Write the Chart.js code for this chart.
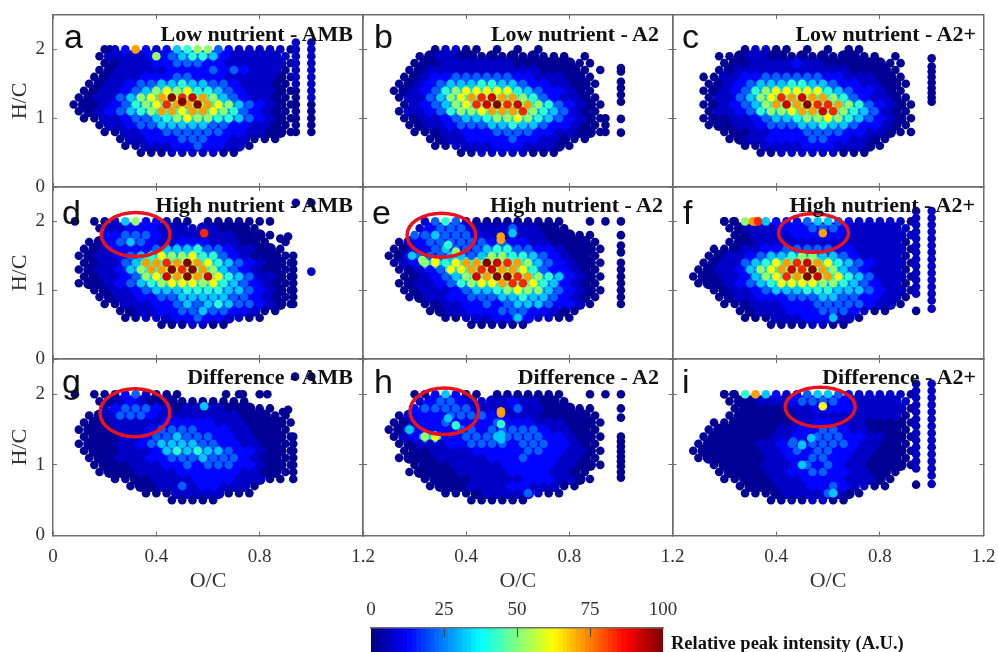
<!DOCTYPE html>
<html>
<head>
<meta charset="utf-8">
<script src="https://cdn.jsdelivr.net/npm/chart.js@4"></script>
<style>
	html, body { margin: 0; background: #fff; overflow: hidden; }
	body { position: relative; width: 998px; height: 652px; }
	canvas { position: absolute; left: 0; top: 0; filter: blur(0.4px); }
	.title, .letter, .bar_label { position: absolute; white-space: nowrap; color: #111; line-height: 1; }
	.title { font: bold 22px "Liberation Serif"; }
	.letter { font: 34px "Liberation Sans"; }
	.bar_label { font: bold 18.5px "Liberation Serif"; left: 671px; top: 633px; }
</style>
</head>
<body>
<script>
// H/C of each row of dots, O/C of the dots in the rows that start at A and at B
const hc_rows = [2.0, 1.9, 1.8, 1.7, 1.6, 1.5, 1.4, 1.3, 1.2, 1.1, 1.0, 0.9, 0.8, 0.7, 0.6, 0.5];
const oc_a = [0.08, 0.12, 0.16, 0.20, 0.24, 0.28, 0.32, 0.36, 0.40, 0.44, 0.48, 0.52, 0.56, 0.60, 0.64, 0.68, 0.72, 0.76, 0.80, 0.84, 0.88, 0.92];
const oc_b = [0.06, 0.10, 0.14, 0.18, 0.22, 0.26, 0.30, 0.34, 0.38, 0.42, 0.46, 0.50, 0.54, 0.58, 0.62, 0.66, 0.70, 0.74, 0.78, 0.82, 0.86, 0.90];
// each character of a row is an index into this list (base 12), "." is no dot
const level_values = [2, 7, 13, 22, 32, 42, 52, 62, 72, 84, 92, 100];

const x_ticks = [0, 0.4, 0.8, 1.2];
const y_ticks = [0, 1, 2];
const bar_ticks = [0, 25, 50, 75, 100];

const letters = ["a", "b", "c", "d", "e", "f", "g", "h", "i"];
const titles = ["Low nutrient - AMB", "Low nutrient - A2", "Low nutrient - A2+", "High nutrient - AMB", "High nutrient - A2", "High nutrient - A2+", "Difference - AMB", "Difference - A2", "Difference - A2+"];

const rows_a = [
	"...0128212456632111110", "...0111122345542111111", "...0011122333221111110", "...0011111222232321110",
	"..00111222332221111100", "..00112334454433211100", ".001123467675543211100", ".001134678b9a864321100",
	"000123567988b876432100", ".001234568878876532100", ".001123345676655432100", "...0112334444433221100",
	"...0011223333332211000", ".....0112223332211000.", ".....0011122322110....", ".......0001111100....."];
const rows_b = [
	".....01100.0.0.0......", "....001100000000000.0.", "...000111111100000000.", "...001111111111100000.",
	"..0012233333322111000.", "..00123444554432211000", ".00123567777754322100.", "..011346789a8865321100",
	"..01234679ab9a86532100", "..01123566788896543100", "..00112344566765432100", "...0011233344544322100",
	"...0001122233332211000", ".....0011222232211000.", ".....00111122211100...", "........0011111000...."];
const rows_c = [
	".....01100.0.0.00.....", "...0001100000000000.0.", "...000111121100000000.", "...001111111111100000.",
	".00112233333322111000.", "..00123444554432211000", ".00123567777754322100.", "..011346798a8865321100",
	".00123468a8b9986532100", "..01123566788a96543100", ".000112344566765432100", "..00011233344544322100",
	"...0001122233332211000", "....0011222233221100..", ".....00111122211100...", ".......00111111000...."];
const rows_d = [
	"..0014622100.0000000..", "...0112221111110000...", "...22333211111110000..", "..002343211222111000.0",
	".00122223444533211000.", ".001123457667553210000", ".0011348898b8754321000", ".001124688b9b864321000",
	".00112367a8b8a75431100", ".000123456777675432100", "..00112344455554432100", "...0011223344444332100",
	"...0011122343454332100", ".....0011223343322100.", ".....00111223221100...", ".........0001100......"];
const rows_e = [
	"....13531000000000..0.", "....123331111311000...", "...334333211111100000.", "..01233333323221100000",
	".002234333455332210000", ".002333443466554321000", ".012675788ba9864321000", "..001237789a8875322100",
	"..0012346a8bb986542100", "..00112356778997542100", "..00111234456766432100", "...0011223334454432100",
	"....00112232344432210.", ".....001122233322100..", "......0011122421100...", ".........000000......."];
const rows_f = [
	"...0068422234432111110", "....001112223332111111", "....001111222221111111", "....000111111111111110",
	"..00011223333322111110", "..00112344566443211110", ".0011345789a8754321110", ".001124678a9b864321110",
	"00011246798ba875431110", ".000123457777665432110", "..00112344455544432110", "...0011222333443322110",
	"...000111222333332110.", ".....001112223332100..", ".....000111222110.....", "........00001100......"];
const rows_g = [
	"..000231000...........", "...001210000000000....", "...12333210111100000..", "..00133321111111100000",
	".000111112222211100000", ".000011123333222110000", ".000011233433322110000", ".000011234444332211000",
	".000011124545443221000", "..00011122333433321000", "..00001112232333221000", "...0000111122222211000",
	"....00001111222211100.", "......0001131221110...", ".......00011111000....", "..........00000......."];
const rows_h = [
	"...0024200.0000000..0.", "....123321111211000...", "...233333111131100000.", "..01222333322111000000",
	".001223222232221110000", ".004222233233333211000", ".012672233343333221000", "..00111223333233322100",
	"..00011112222233221100", "..00001111122232221100", "...0000111112222211000", "...000001111122221100.",
	"....00000111112221100.", ".....000011112211100..", "......000011113100....", ".........000000......."];
const rows_i = [
	"...0058421234432111110", "....000111233332111111", "....000000112222111110", "....000000011111111110",
	"..00000000112211100000", "..00000001122332110000", ".000000011223332211000", ".000000112333333211000",
	"0000000112323322110000", ".000000011223322110000", "..00000111232321100000", "...000001122332211000.",
	"...00000111222211100..", ".....000011122321100..", ".....000011113100.....", "........00001100......"];

// loose dots and the side columns: [O/C, level, H/C, H/C, ...]
const extra_a = [[0.94, 1, 2.1, 2.0, 1.9, 1.8, 1.7, 1.6, 1.5], [0.94, 0, 1.4, 1.3, 1.2, 1.1, 1.0, 0.9, 0.8], [1.0, 1, 2.1, 2.0, 1.9, 1.8, 1.7, 1.6, 1.5, 1.4, 1.3], [1.0, 0, 1.2, 1.1, 1.0, 0.9, 0.8], [0.40, 6, 1.9], [0.50, 11, 1.24], [0.22, 0, 2.0]];
const extra_b = [[1.0, 0, 1.73, 1.68, 1.53, 1.44, 1.34, 1.24, 0.99, 0.79], [0.94, 0, 1.0, 0.9, 0.8], [0.92, 0, 1.7]];
const extra_c = [[1.0, 0, 1.87, 1.75, 1.68, 1.6, 1.52, 1.44, 1.37, 1.3, 1.24]];
const extra_d = [[0.085, 0, 2.0], [0.94, 0, 2.27], [1.0, 1, 2.27], [1.0, 1, 1.27], [0.585, 9, 1.83], [0.91, 0, 1.78], [0.88, 0, 1.75], [0.93, 0, 1.5, 1.4, 1.3, 1.2, 1.1, 1.0, 0.9, 0.8]];
const extra_e = [[0.534, 8, 1.73, 1.78], [1.0, 0, 2.0, 1.8, 1.65, 1.55, 1.4, 1.3, 1.2, 1.1, 1.0, 0.9, 0.8], [0.94, 0, 2.0], [0.36, 6, 1.56], [0.33, 5, 1.66], [0.28, 7, 1.43], [0.23, 6, 1.44], [0.19, 4, 1.5], [0.58, 4, 1.83]];
const extra_f = [[0.20, 0, 2.0], [0.235, 0, 2.0], [0.58, 8, 1.83], [0.62, 4, 0.6], [0.33, 9, 2.0], [0.31, 8, 2.0], [0.94, 1, 2.15, 2.05, 1.95, 1.85, 1.75, 1.65, 1.55, 1.45, 1.35, 1.25, 1.15, 1.05, 0.95], [0.94, 0, 0.7], [1.0, 1, 2.15, 2.05, 1.95, 1.85, 1.75, 1.65, 1.55, 1.45, 1.35, 1.25, 1.15, 1.05, 0.95, 0.85, 0.73]];
const extra_g = [[0.085, 0, 2.0], [0.67, 0, 2.0], [0.72, 0, 2.0], [0.735, 0, 2.0], [0.80, 0, 2.0], [0.83, 0, 2.0], [0.585, 4, 1.83], [0.937, 0, 2.25], [1.0, 0, 2.25], [0.89, 0, 1.75], [0.91, 0, 1.78], [0.93, 0, 1.4, 1.3, 1.2, 1.1, 1.0, 0.9, 0.8]];
const extra_h = [[0.535, 8, 1.73, 1.76], [0.535, 5, 1.58], [0.535, 4, 1.43, 1.36], [0.33, 4, 1.66], [0.36, 5, 1.56], [1.0, 0, 2.0, 1.8, 1.67, 1.4, 1.33, 1.26, 1.19, 1.12, 1.05, 0.98, 0.9, 0.82], [0.94, 0, 2.0]];
const extra_i = [[0.20, 0, 2.0], [0.235, 0, 2.0], [0.58, 7, 1.83], [0.62, 4, 0.6], [0.50, 4, 1.0, 1.28], [0.535, 4, 1.38], [0.466, 3, 1.33], [0.94, 1, 2.15, 2.05, 1.95, 1.85, 1.75, 1.65, 1.55, 1.45, 1.35, 1.25, 1.15, 1.05, 0.95], [0.94, 0, 0.72], [1.0, 1, 2.15, 2.05, 1.95, 1.85, 1.75, 1.65, 1.55, 1.45, 1.35, 1.25, 1.15, 1.05, 0.95, 0.85, 0.73]];

// red rings: [O/C, H/C, half width, half height]
const ring_d = [0.32, 1.81, 0.133, 0.32];
const ring_e = [0.304, 1.8, 0.133, 0.32];
const ring_f = [0.544, 1.83, 0.135, 0.28];
const ring_g = [0.317, 1.74, 0.135, 0.34];
const ring_h = [0.315, 1.76, 0.133, 0.33];
const ring_i = [0.57, 1.82, 0.135, 0.28];

const all_rows = [rows_a, rows_b, rows_c, rows_d, rows_e, rows_f, rows_g, rows_h, rows_i];
const all_extra = [extra_a, extra_b, extra_c, extra_d, extra_e, extra_f, extra_g, extra_h, extra_i];
const all_rings = [null, null, null, ring_d, ring_e, ring_f, ring_g, ring_h, ring_i];

const col_left = [53, 363, 672.5];
const col_right = [363, 672.5, 983.5];
const row_top = [15, 187, 359];
const row_bottom = [187, 359, 535.5];
const title_right = [353, 659, 976, 353, 663, 975, 353, 659, 976];
const title_top = [21, 21, 21, 192, 192, 192, 364, 364, 364];
const letter_left = [64, 374, 682, 62, 372, 683, 62, 374, 682];
const letter_top = [17, 17, 17, 193, 193, 193, 362, 362, 362];

const PAGE_W = 998, PAGE_H = 652;
const AXIS_COLOR = "#6e6e6e";
const TEXT_COLOR = "#333";

function jet_color(v) {
	const t = v / 100;
	const part = c => Math.round(255 * Math.min(1, Math.max(0, 1.5 - Math.abs(4 * t - c))));
	return `rgb(${part(3)},${part(2)},${part(1)})`;
}

function build_points(rows, extra) {
	const points = [];
	const filled = (r, i) => rows[r] !== undefined && rows[r][i] !== undefined && rows[r][i] !== ".";
	rows.forEach((row, r) => {
		const oc = r % 2 ? oc_b : oc_a;
		[...row].forEach((c, i) => {
			if (c === ".") return;
			const level = parseInt(c, 12);
			const inside = filled(r, i - 1) && filled(r, i + 1) && filled(r - 1, i) && filled(r + 1, i);
			points.push({x: oc[i], y: hc_rows[r], v: level_values[level], r: 4.3, inside});
		});
	});
	for (const [oc, level, ...hcs] of extra)
		for (const hc of hcs)
			points.push({x: oc, y: hc, v: level_values[level], r: 4.3, inside: false});
	return points.sort((a, b) => a.v - b.v);
}

const ring_plugin = {
	id: "ring",
	afterDatasetsDraw(chart, args, opts) {
		if (!opts.ring) return;
		const [oc, hc, rx, ry] = opts.ring;
		const {x, y} = chart.scales;
		const ctx = chart.ctx;
		ctx.save();
		ctx.beginPath();
		ctx.ellipse(x.getPixelForValue(oc), y.getPixelForValue(hc),
			x.getPixelForValue(oc + rx) - x.getPixelForValue(oc),
			y.getPixelForValue(hc) - y.getPixelForValue(hc + ry), 0, 0, Math.PI * 2);
		ctx.lineWidth = 3.5;
		ctx.strokeStyle = "#e6141e";
		ctx.stroke();
		ctx.restore();
	}
};

function add_canvas() {
	const canvas = document.createElement("canvas");
	canvas.width = PAGE_W;
	canvas.height = PAGE_H;
	canvas.style.width = PAGE_W + "px";
	canvas.style.height = PAGE_H + "px";
	document.body.appendChild(canvas);
	return canvas;
}

// the axes get a fixed size, and label overhang must not move the plot area
function fixed_size(prop, size) {
	return scale => {
		scale[prop] = size;
		scale.paddingLeft = scale.paddingRight = scale.paddingTop = scale.paddingBottom = 0;
	};
}

function draw_panel(index) {
	const col = index % 3, row = Math.floor(index / 3);
	const points = build_points(all_rows[index], all_extra[index]);
	// a wider, cooler dot under the inner dots closes the gaps of the lattice
	const under = points.filter(p => p.inside);
	const is_left = col === 0, is_bottom = row === 2;
	const axis_grid = {drawOnChartArea: false, tickLength: -4, tickColor: AXIS_COLOR, tickWidth: 1};
	const axis_border = {display: true, color: AXIS_COLOR, width: 1.5};
	const tick_font = {family: "Liberation Serif", size: 19};

	new Chart(add_canvas(), {
		type: "scatter",
		data: {
			datasets: [{
				data: points,
				order: 0,
				pointRadius: points.map(p => p.r),
				pointBackgroundColor: points.map(p => jet_color(p.v)),
				pointBorderWidth: 0
			}, {
				data: under,
				order: 1,
				pointRadius: 6,
				pointBackgroundColor: under.map(p => jet_color(p.v > 20 ? p.v * 0.55 : p.v)),
				pointBorderWidth: 0
			}]
		},
		plugins: [ring_plugin],
		options: {
			responsive: false,
			animation: false,
			events: [],
			layout: {
				padding: {
					left: is_left ? 0 : col_left[col],
					right: PAGE_W - col_right[col],
					top: row_top[row],
					bottom: PAGE_H - row_bottom[row] - (is_bottom ? 60 : 0)
				}
			},
			plugins: {
				legend: {display: false},
				tooltip: {enabled: false},
				ring: {ring: all_rings[index]}
			},
			scales: {
				x: {
					type: "linear", position: "bottom", min: 0, max: 1.2,
					afterBuildTicks: scale => { scale.ticks = x_ticks.map(value => ({value})); },
					afterFit: fixed_size("height", is_bottom ? 60 : 0),
					grid: axis_grid, border: axis_border,
					ticks: {
						display: is_bottom, autoSkip: false, maxRotation: 0, padding: 14,
						color: TEXT_COLOR, font: tick_font,
						callback: v => (v === 0 && !is_left) ? "" : String(v)
					},
					title: {display: is_bottom, text: "O/C", color: TEXT_COLOR, padding: {top: 0, bottom: 1}, font: {family: "Liberation Serif", size: 22}}
				},
				y: {
					type: "linear", position: "left", min: 0, max: 2.5,
					afterBuildTicks: scale => { scale.ticks = y_ticks.map(value => ({value})); },
					afterFit: fixed_size("width", is_left ? 53 : 0),
					grid: axis_grid, border: axis_border,
					ticks: {display: is_left, autoSkip: false, padding: 12, color: TEXT_COLOR, font: tick_font},
					title: {display: is_left, text: "H/C", color: TEXT_COLOR, padding: {top: 7, bottom: 0}, font: {family: "Liberation Serif", size: 22}}
				},
				x_top: {
					type: "linear", position: "top", min: 0, max: 1.2,
					afterBuildTicks: scale => { scale.ticks = x_ticks.map(value => ({value})); },
					afterFit: fixed_size("height", 0),
					grid: axis_grid, border: axis_border, ticks: {display: false}
				},
				y_right: {
					type: "linear", position: "right", min: 0, max: 2.5,
					afterBuildTicks: scale => { scale.ticks = y_ticks.map(value => ({value})); },
					afterFit: fixed_size("width", 0),
					grid: axis_grid, border: axis_border, ticks: {display: false}
				}
			}
		}
	});

	const title = document.createElement("div");
	title.className = "title";
	title.textContent = titles[index];
	title.style.right = (PAGE_W - title_right[index]) + "px";
	title.style.top = title_top[index] + "px";
	document.body.appendChild(title);

	const letter = document.createElement("div");
	letter.className = "letter";
	letter.textContent = letters[index];
	letter.style.left = letter_left[index] + "px";
	letter.style.top = letter_top[index] + "px";
	document.body.appendChild(letter);
}

function draw_colorbar() {
	const stops = Array.from({length: 64}, (_, i) => (i + 0.5) * 100 / 64);
	new Chart(add_canvas(), {
		type: "bar",
		data: {
			datasets: [{
				data: stops.map(s => ({x: s, y: 1})),
				backgroundColor: stops.map(jet_color),
				barPercentage: 1,
				categoryPercentage: 1,
				borderWidth: 0
			}]
		},
		options: {
			responsive: false,
			animation: false,
			events: [],
			layout: {padding: {left: 371, right: PAGE_W - 663, top: 596, bottom: 0}},
			plugins: {legend: {display: false}, tooltip: {enabled: false}},
			scales: {
				x: {
					type: "linear", position: "top", min: 0, max: 100, offset: false,
					afterBuildTicks: scale => { scale.ticks = bar_ticks.map(value => ({value})); },
					afterFit: fixed_size("height", 32),
					grid: {
						drawOnChartArea: false, tickLength: -9, offset: false, z: 1,
						tickColor: c => (c.tick.value === 0 || c.tick.value === 100) ? "transparent" : "#444"
					},
					border: {display: true, color: AXIS_COLOR, width: 1.5, z: 2},
					ticks: {autoSkip: false, maxRotation: 0, padding: 16, color: TEXT_COLOR, font: {family: "Liberation Serif", size: 19}}
				},
				y: {display: false, min: 0, max: 1}
			}
		}
	});
	const label = document.createElement("div");
	label.className = "bar_label";
	label.textContent = "Relative peak intensity (A.U.)";
	document.body.appendChild(label);
}

letters.forEach((_, i) => draw_panel(i));
draw_colorbar();
</script>
</body>
</html>
